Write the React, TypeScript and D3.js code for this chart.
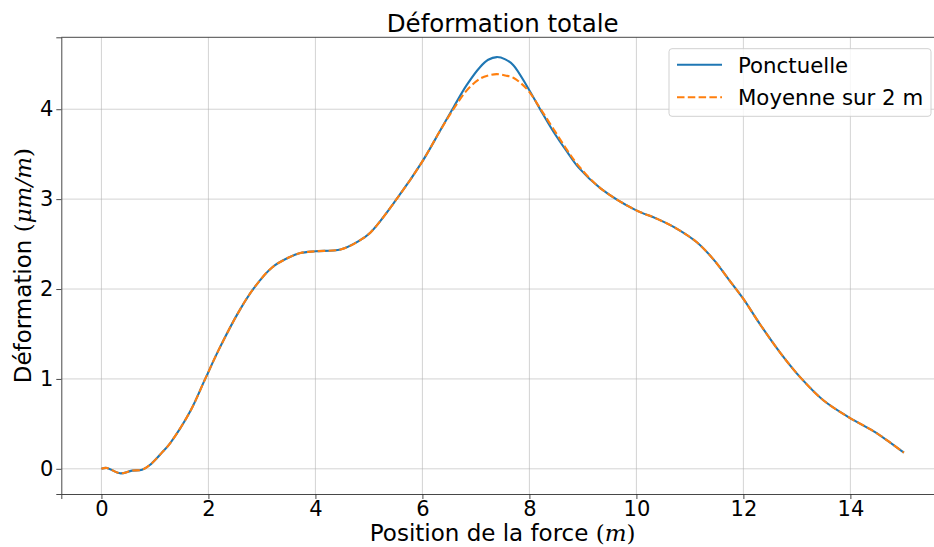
import React, { useRef, useEffect } from "react";
import * as d3 from "d3";

// positions de la force (m)
const positions = [
  0, 0.1, 0.35, 0.57, 0.76, 0.9, 1.13, 1.29, 1.66, 1.94, 2.19, 2.56, 2.85,
  3.19, 3.5, 3.72, 4.0, 4.47, 4.8, 5.03, 5.53, 6.0, 6.33, 6.58, 6.83, 7.08,
  7.23, 7.39, 7.55, 7.7, 7.96, 8.2, 8.45, 8.7, 8.92, 9.33, 9.98, 10.39, 10.76,
  11.13, 11.44, 11.76, 12.0, 12.32, 12.69, 13.06, 13.5, 13.98, 14.43, 14.68,
  15.0,
];

const ponctuelle = [
  0, 0.01, -0.05, -0.02, -0.01, 0.04, 0.18, 0.29, 0.64, 1.0, 1.32, 1.74, 2.01,
  2.24, 2.35, 2.4, 2.42, 2.44, 2.53, 2.63, 3.01, 3.42, 3.76, 4.02, 4.27, 4.47,
  4.55, 4.58, 4.555, 4.49, 4.25, 4.0, 3.75, 3.53, 3.35, 3.12, 2.88, 2.78, 2.67,
  2.52, 2.33, 2.08, 1.89, 1.6, 1.29, 1.02, 0.76, 0.57, 0.42, 0.32, 0.18,
];

const moyenne = [
  0, 0.01, -0.05, -0.02, -0.01, 0.04, 0.18, 0.29, 0.64, 1.0, 1.32, 1.74, 2.01,
  2.24, 2.35, 2.4, 2.42, 2.44, 2.53, 2.63, 3.01, 3.42, 3.76, 4.0, 4.21, 4.34,
  4.375, 4.39, 4.375, 4.35, 4.22, 4.01, 3.78, 3.55, 3.37, 3.12, 2.88, 2.78, 2.67,
  2.52, 2.33, 2.08, 1.89, 1.6, 1.29, 1.02, 0.76, 0.57, 0.42, 0.32, 0.18,
];

const xTicks = [0, 2, 4, 6, 8, 10, 12, 14];
const yTicks = [0, 1, 2, 3, 4];

const seriesNames = ["Ponctuelle", "Moyenne sur 2 m"];
const colors = ["#1f77b4", "#ff7f0e"];

const W = 934;
const H = 547;
const margin = { left: 61.3, top: 37.3, right: -10, bottom: 53 };

export default function App() {
  const svgRef = useRef<SVGSVGElement>(null);

  useEffect(() => {
    const svg = d3.select(svgRef.current);
    svg.selectAll("*").remove();

    const x = d3
      .scaleLinear()
      .domain([-0.75, 15.75])
      .range([margin.left, W - margin.right]);
    const y = d3
      .scaleLinear()
      .domain([-0.28, 4.8])
      .range([H - margin.bottom, margin.top]);

    const font = "DejaVu Sans, sans-serif";
    const mathFont = "DejaVu Serif, serif";

    svg
      .append("defs")
      .append("clipPath")
      .attr("id", "plot-clip")
      .append("rect")
      .attr("x", margin.left)
      .attr("y", margin.top)
      .attr("width", W - margin.right - margin.left)
      .attr("height", H - margin.bottom - margin.top);

    // grid
    const grid = svg.append("g").attr("stroke", "#b0b0b0").attr("stroke-opacity", 0.7).attr("stroke-width", 0.8);
    xTicks.forEach((t) => {
      grid.append("line").attr("x1", x(t)).attr("x2", x(t)).attr("y1", y.range()[0]).attr("y2", y.range()[1]);
    });
    yTicks.forEach((t) => {
      grid.append("line").attr("x1", x.range()[0]).attr("x2", x.range()[1]).attr("y1", y(t)).attr("y2", y(t));
    });

    const data = positions.map((p, i) => ({ x: p, a: ponctuelle[i], b: moyenne[i] }));
    const lineA = d3.line<any>().x((d) => x(d.x)).y((d) => y(d.a)).curve(d3.curveCatmullRom.alpha(0.5));
    const lineB = d3.line<any>().x((d) => x(d.x)).y((d) => y(d.b)).curve(d3.curveCatmullRom.alpha(0.5));

    const plot = svg.append("g").attr("clip-path", "url(#plot-clip)");
    plot.append("path").datum(data).attr("d", lineA).attr("fill", "none").attr("stroke", colors[0]).attr("stroke-width", 2.1);
    plot
      .append("path")
      .datum(data)
      .attr("d", lineB)
      .attr("fill", "none")
      .attr("stroke", colors[1])
      .attr("stroke-width", 2.1)
      .attr("stroke-dasharray", "7.5,3.3");

    // axes
    const xAxis = svg
      .append("g")
      .attr("transform", `translate(0,${y.range()[0]})`)
      .call(d3.axisBottom(x).tickValues(xTicks).tickSize(5).tickPadding(2).tickFormat(d3.format("d")));
    const yAxis = svg
      .append("g")
      .attr("transform", `translate(${margin.left},0)`)
      .call(d3.axisLeft(y).tickValues(yTicks).tickSize(5).tickPadding(3).tickFormat(d3.format("d")));
    [xAxis, yAxis].forEach((ax) => {
      ax.select(".domain").attr("stroke", "#333").attr("stroke-width", 0.9);
      ax.selectAll(".tick line").attr("stroke", "#333").attr("stroke-width", 0.9);
      ax.selectAll(".tick text").attr("fill", "#000").attr("font-family", font).attr("font-size", 21);
    });
    // top spine
    svg
      .append("line")
      .attr("x1", x.range()[0])
      .attr("x2", x.range()[1])
      .attr("y1", margin.top)
      .attr("y2", margin.top)
      .attr("stroke", "#333")
      .attr("stroke-width", 0.9);

    // title
    svg
      .append("text")
      .attr("x", (x.range()[0] + x.range()[1]) / 2)
      .attr("y", 32)
      .attr("text-anchor", "middle")
      .attr("font-family", font)
      .attr("font-size", 24.5)
      .text("Déformation totale");

    // x label
    const xl = svg
      .append("text")
      .attr("x", (x.range()[0] + x.range()[1]) / 2)
      .attr("y", 541)
      .attr("text-anchor", "middle")
      .attr("font-family", font)
      .attr("font-size", 23);
    xl.append("tspan").text("Position de la force ");
    xl.append("tspan").attr("font-family", mathFont).text("(");
    xl.append("tspan").attr("font-family", mathFont).attr("font-style", "italic").text("m");
    xl.append("tspan").attr("font-family", mathFont).text(")");

    // y label
    const yl = svg
      .append("text")
      .attr("transform", `translate(31,${(y.range()[0] + y.range()[1]) / 2}) rotate(-90)`)
      .attr("text-anchor", "middle")
      .attr("font-family", font)
      .attr("font-size", 23);
    yl.append("tspan").text("Déformation ");
    yl.append("tspan").attr("font-family", mathFont).text("(");
    yl.append("tspan").attr("font-family", mathFont).attr("font-style", "italic").text("μm/m");
    yl.append("tspan").attr("font-family", mathFont).text(")");

    // legend
    const lg = svg.append("g");
    lg.append("rect")
      .attr("x", 669)
      .attr("y", 48.7)
      .attr("width", 262)
      .attr("height", 67.6)
      .attr("rx", 3)
      .attr("fill", "#fff")
      .attr("fill-opacity", 0.8)
      .attr("stroke", "#cccccc")
      .attr("stroke-width", 0.9);
    seriesNames.forEach((name, i) => {
      const ly = 64.7 + i * 32.6;
      lg.append("line")
        .attr("x1", 677)
        .attr("x2", 722)
        .attr("y1", ly)
        .attr("y2", ly)
        .attr("stroke", colors[i])
        .attr("stroke-width", 2.1)
        .attr("stroke-dasharray", i === 1 ? "7.5,3.3" : null);
      lg.append("text")
        .attr("x", 738)
        .attr("y", ly + 8)
        .attr("font-family", font)
        .attr("font-size", 21.3)
        .text(name);
    });
  }, []);

  return (
    <svg
      ref={svgRef}
      width={W}
      height={H}
      style={{ position: "absolute", left: 0, top: 0, background: "#fff" }}
    ></svg>
  );
}
